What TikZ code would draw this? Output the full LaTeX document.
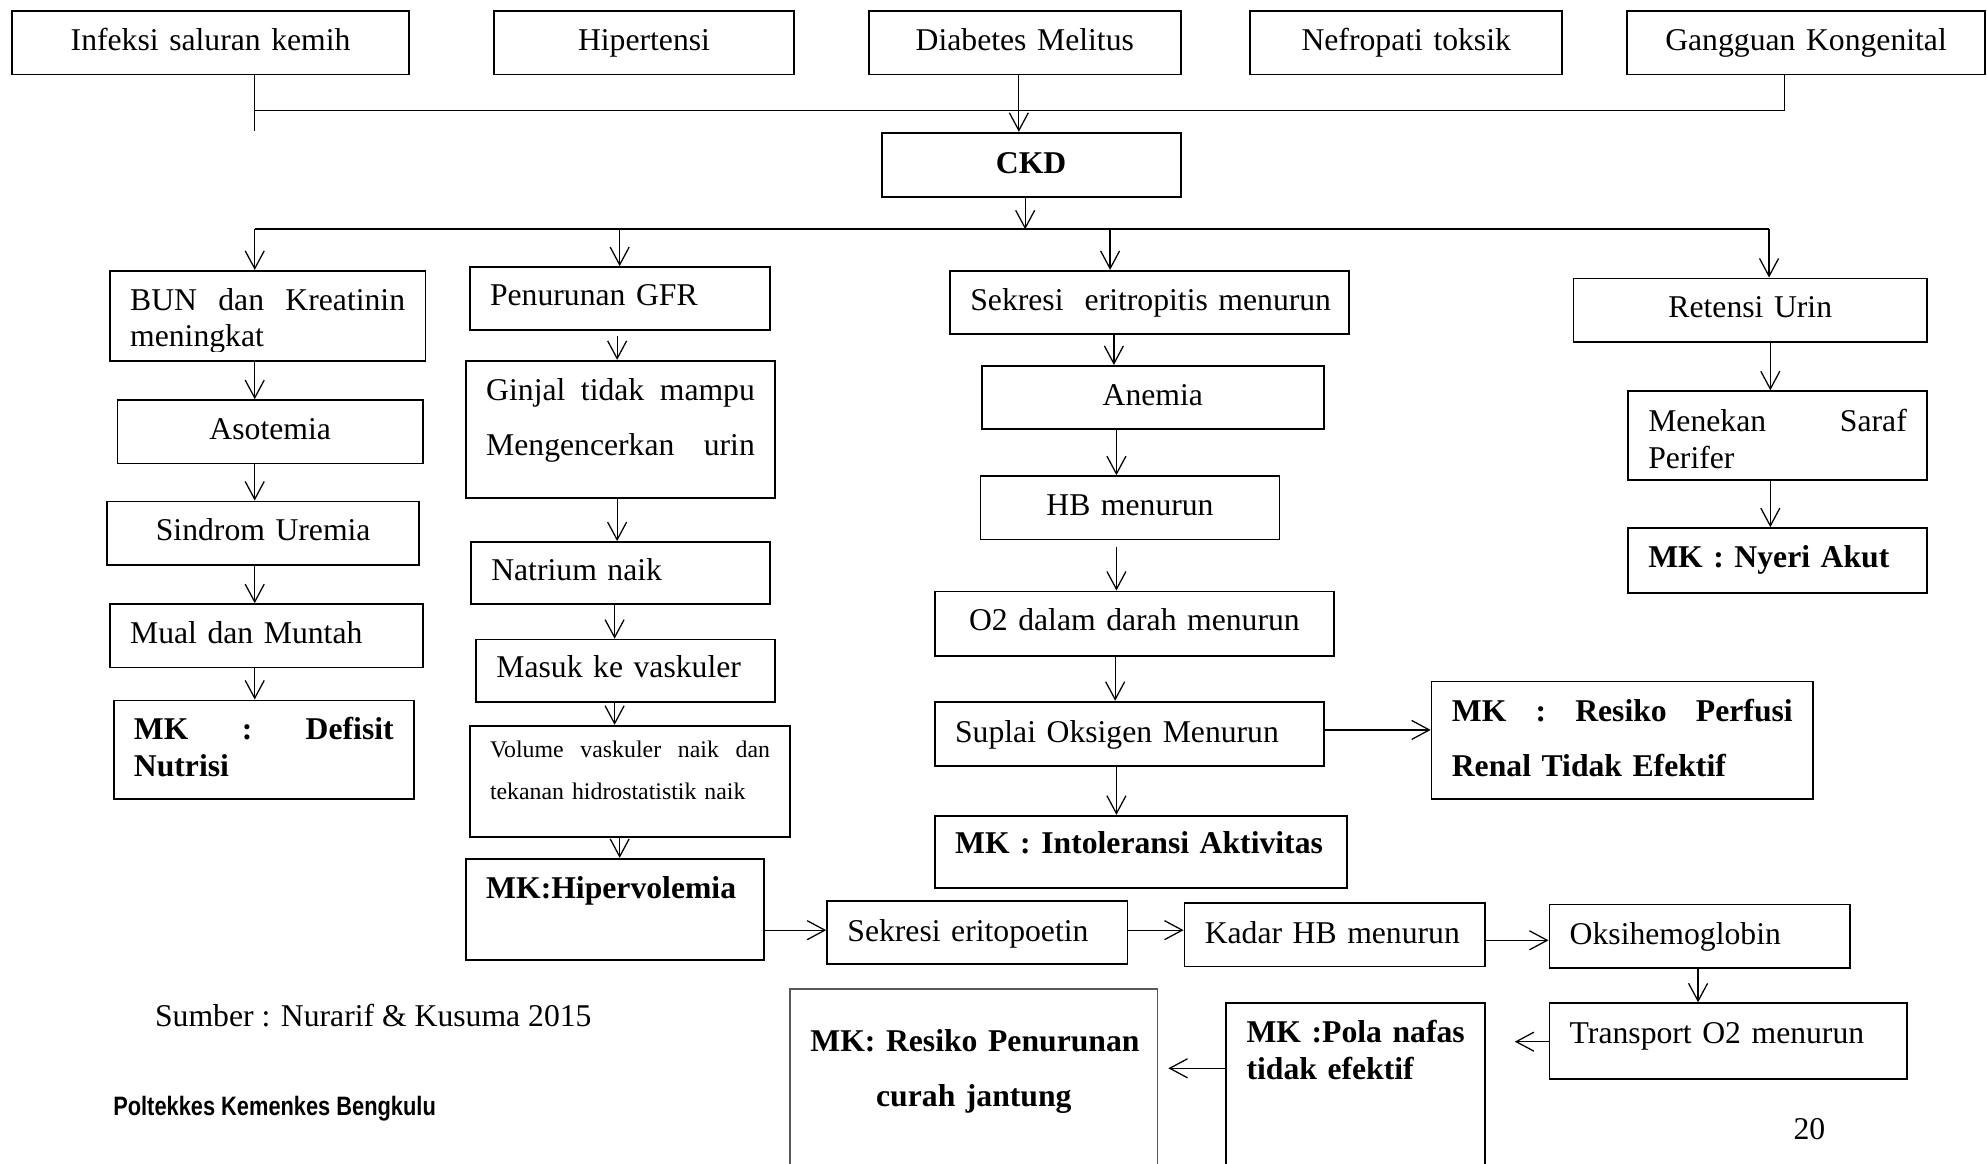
\documentclass[tikz,border=0pt]{standalone}
\usepackage{fontspec}
\setmainfont{Liberation Serif}
\newfontfamily\footsans[FakeStretch=0.82]{Liberation Sans}
\usetikzlibrary{arrows.meta,calc}
\newcommand{\mainsize}{\fontsize{12.5pt}{15pt}\selectfont}
\newcommand{\fsz}[1]{\fontsize{12.5pt}{#1}\selectfont}
\begin{document}
\begin{tikzpicture}[x=0.5pt,y=-0.5pt,
  bx/.style={draw, line width=0.7pt, inner ysep=0pt, inner xsep=8pt, anchor=north west, font=\mainsize},
  geo/.style n args={3}{text width=#1pt, text height=#2pt, text depth=#3pt},
  con/.style={line width=0.5pt},
  bus/.style={line width=0.8pt},
  arr/.style={line width=0.5pt, -{Straight Barb[length=7pt,width=7.5pt]}},
  plain/.style={anchor=base west, inner sep=0pt, font=\mainsize}]
\path[fill=white,use as bounding box] (0,0) rectangle (1568,918);

% top row
\node[bx, geo={140.5}{15.5}{9.5}, align=center] (inf) at (9,8) {Infeksi saluran kemih};
\node[bx, geo={102.5}{15.5}{9.5}, align=center] (hip) at (389,8) {Hipertensi};
\node[bx, geo={107}{15.5}{9.5}, align=center] (dm) at (685,8) {Diabetes Melitus};
\node[bx, geo={107}{15.5}{9.5}, align=center] (nef) at (986,8) {Nefropati toksik};
\node[bx, geo={125.5}{15.5}{9.5}, align=center] (gk) at (1283,8) {Gangguan Kongenital};
\node[bx, geo={102}{16}{9.5}, align=center, font=\mainsize\bfseries] (ckd) at (695,104) {CKD};

% column 1
\node[bx, geo={108.5}{15.5}{20}, align=left, font=\fsz{14.5pt}] (bun) at (86,213) {BUN\hfill dan\hfill Kreatinin\\meningkat};
\node[bx, geo={104.5}{15.5}{9.5}, align=center] (aso) at (92,315) {Asotemia};
\node[bx, geo={107}{15.5}{9.5}, align=center] (sin) at (84,395) {Sindrom Uremia};
\node[bx, geo={107.5}{15.5}{9.5}, align=left] (mual) at (86,476) {Mual dan Muntah};
\node[bx, geo={102.5}{15.5}{23.5}, align=left, font=\fsz{14.5pt}\bfseries] (def) at (89,552) {MK\hfill:\hfill Defisit\\Nutrisi};

% column 2
\node[bx, geo={102.5}{15}{10}, align=left] (gfr) at (370,210) {Penurunan GFR};
\node[bx, geo={106}{15.5}{38.5}, align=left, font=\fsz{22pt}] (gin) at (367,284) {Ginjal\hfill tidak\hfill mampu\\Mengencerkan\hfill urin};
\node[bx, geo={102}{15}{9.5}, align=left] (nat) at (371,427) {Natrium naik};
\node[bx, geo={102}{15}{9.5}, align=left] (mas) at (375,504) {Masuk ke vaskuler};
\node[bx, geo={110.5}{12.5}{31.5}, align=left, font=\fontsize{9.4pt}{16.5pt}\selectfont] (vol) at (370,572) {Volume\hfill vaskuler\hfill naik\hfill dan\\tekanan hidrostatistik naik};
\node[bx, geo={101.5}{15.5}{24.5}, align=left, font=\mainsize\bfseries] (hyp) at (367,677) {MK:Hipervolemia};

% column 3
\node[bx, geo={141.5}{15.5}{9.5}, align=left] (sek) at (749,213) {\mbox{Sekresi\ \ eritropitis menurun}};
\node[bx, geo={119}{15.5}{9.5}, align=center] (ane) at (774,288) {Anemia};
\node[bx, geo={102}{15.5}{9.5}, align=center] (hb) at (773,375) {HB menurun};
\node[bx, geo={141.5}{15.5}{10}, align=center] (o2) at (737,466) {O2 dalam darah menurun};
\node[bx, geo={137.5}{16}{9.5}, align=left] (sup) at (737,553) {Suplai Oksigen Menurun};
\node[bx, geo={146.5}{15}{13.5}, align=left, font=\mainsize\bfseries] (int) at (737,643) {MK : Intoleransi Aktivitas};
\node[bx, geo={134.5}{16}{30.5}, align=left, font=\fsz{21.5pt}\bfseries] (per) at (1129,537) {MK\hfill:\hfill Resiko\hfill Perfusi\\Renal Tidak Efektif};

% column 4
\node[bx, geo={123.5}{15.5}{9.5}, align=center] (ret) at (1241,219) {Retensi Urin};
\node[bx, geo={102}{16}{19}, align=left, font=\fsz{14.5pt}] (men) at (1284,308) {Menekan\hfill Saraf\\Perifer};
\node[bx, geo={102}{15.5}{10}, align=left, font=\mainsize\bfseries] (nye) at (1284,416) {MK : Nyeri Akut};

% bottom chain
\node[bx, geo={102.5}{16}{9}, align=left] (sep) at (652,710) {Sekresi eritopoetin};
\node[bx, geo={102.5}{16}{9}, align=left] (kad) at (934,712) {\mbox{Kadar HB menurun}};
\node[bx, geo={102.5}{16}{9}, align=left] (oks) at (1222,713) {Oksihemoglobin};
\node[bx, geo={125}{16}{14}, align=left] (tra) at (1222,791) {Transport O2 menurun};
\node[bx, geo={86}{15.5}{54}, align=left, font=\fsz{14.5pt}\bfseries] (pol) at (967,791) {\mbox{MK :Pola nafas}\\tidak efektif};
\node[bx, geo={129}{24.5}{50.5}, align=center, font=\fsz{22pt}\bfseries, draw=black!65, line width=0.5pt] (rpj) at (623,780) {\mbox{MK: Resiko Penurunan}\\curah jantung};

% clipped descender of "meningkat"
\fill[white] ([shift={(1.5,-1.5)}]bun.south west) rectangle ([shift={(-1.5,-8)}]bun.south east);

% free texts
\node[plain] (src) at (122,810) {Sumber : Nurarif \& Kusuma 2015};
\node[plain, font=\footsans\bfseries\fontsize{10.5pt}{12pt}\selectfont] (inst) at (89,880.5) {Poltekkes Kemenkes Bengkulu};
\node[plain] (pg) at (1415,899) {20};

% top connectors
\coordinate (j1) at (201,87);
\coordinate (j1e) at (201,103);
\coordinate (j2) at (1408,87);
\coordinate (xd) at (804,87);
\draw[con] (inf.south -| j1) -- (j1e);
\draw[con] (j1) -- (j2) -- (gk.south -| j2);
\draw[arr] (dm.south -| xd) -- (ckd.north -| xd);

% bus under CKD
\coordinate (b0) at (809,181);
\coordinate (b1) at (201,181);
\coordinate (b2) at (489,181);
\coordinate (b3) at (876,181);
\coordinate (b4) at (1396,181);
\draw[arr] (ckd.south -| b0) -- (b0);
\draw[bus] (b1) -- (b4);
\draw[arr] (b1) -- (bun.north -| b1);
\draw[arr] (b2) -- (gfr.north -| b2);
\draw[arr] (b3) -- (sek.north -| b3);
\draw[arr] (b4) -- (ret.north -| b4);

% column x positions
\coordinate (xL) at (201,0);
\coordinate (xG1) at (487,0);
\coordinate (xG2) at (485,0);
\coordinate (xG3) at (489,0);
\coordinate (xS1) at (879,0);
\coordinate (xS2) at (881,0);
\coordinate (xS3) at (880,0);
\coordinate (xR) at (1397,0);
\coordinate (xO) at (1340,0);

\draw[arr] (bun.south -| xL) -- (aso.north -| xL);
\draw[arr] (aso.south -| xL) -- (sin.north -| xL);
\draw[arr] (sin.south -| xL) -- (mual.north -| xL);
\draw[arr] (mual.south -| xL) -- (def.north -| xL);

\draw[arr, shorten <=2pt] (gfr.south -| xG1) -- (gin.north -| xG1);
\draw[arr] (gin.south -| xG1) -- (nat.north -| xG1);
\draw[arr] (nat.south -| xG2) -- (mas.north -| xG2);
\draw[arr] (mas.south -| xG2) -- (vol.north -| xG2);
\draw[arr] (vol.south -| xG3) -- (hyp.north -| xG3);

\draw[arr] (sek.south -| xS1) -- (ane.north -| xS1);
\draw[arr] (ane.south -| xS2) -- (hb.north -| xS2);
\draw[arr, shorten <=2.5pt] (hb.south -| xS2) -- (o2.north -| xS2);
\draw[arr] (o2.south -| xS3) -- (sup.north -| xS3);
\draw[arr] (sup.south -| xS2) -- (int.north -| xS2);

\draw[arr] (ret.south -| xR) -- (men.north -| xR);
\draw[arr] (men.south -| xR) -- (nye.north -| xR);

% horizontal connectors
\coordinate (yS) at (0,576);
\coordinate (yH) at (0,734);
\coordinate (yK) at (0,742);
\coordinate (yT) at (0,822);
\coordinate (yP) at (0,843);
\draw[arr] (sup.east |- yS) -- (per.west |- yS);
\draw[arr] (hyp.east |- yH) -- (sep.west |- yH);
\draw[arr] (sep.east |- yH) -- (kad.west |- yH);
\draw[arr] (kad.east |- yK) -- (oks.west |- yK);
\draw[arr] (oks.south -| xO) -- (tra.north -| xO);
\draw[arr, shorten >=11.5pt] (tra.west |- yT) -- (pol.east |- yT);
\draw[arr, shorten >=4pt] (pol.west |- yP) -- (rpj.east |- yP);
\end{tikzpicture}
\end{document}
